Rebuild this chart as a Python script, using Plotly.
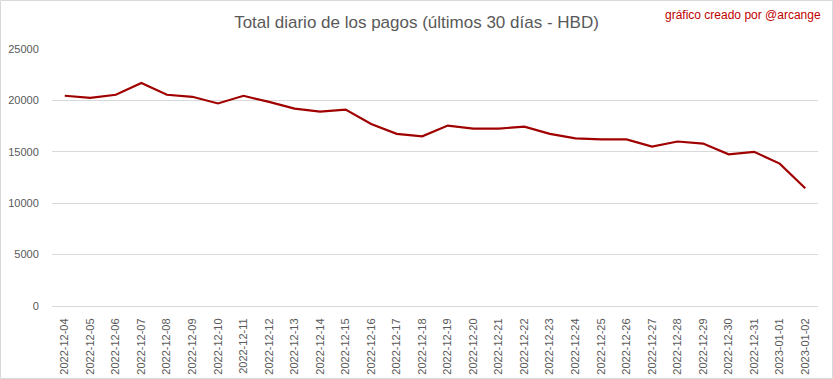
import plotly.graph_objects as go

dates = ["2022-12-04", "2022-12-05", "2022-12-06", "2022-12-07", "2022-12-08", "2022-12-09",
         "2022-12-10", "2022-12-11", "2022-12-12", "2022-12-13", "2022-12-14", "2022-12-15",
         "2022-12-16", "2022-12-17", "2022-12-18", "2022-12-19", "2022-12-20", "2022-12-21",
         "2022-12-22", "2022-12-23", "2022-12-24", "2022-12-25", "2022-12-26", "2022-12-27",
         "2022-12-28", "2022-12-29", "2022-12-30", "2022-12-31", "2023-01-01", "2023-01-02"]
values = [20450, 20250, 20550, 21700, 20550, 20350,
          19700, 20450, 19850, 19200, 18900, 19100,
          17700, 16750, 16500, 17550, 17250, 17250,
          17450, 16750, 16300, 16200, 16200, 15500,
          16000, 15800, 14750, 15000, 13850, 11450]
y_ticks = [0, 5000, 10000, 15000, 20000, 25000]
y_labels = ["0", "5000", "10000", "15000", "20000", "25000"]

W, H = 833, 379
ml, mr, mt, mb = 52, 15, 49, 73
pw, ph = W - ml - mr, H - mt - mb

fig = go.Figure()
fig.add_trace(go.Scatter(x=dates, y=values, mode="lines",
                         line=dict(color="#a00000", width=2.2), hoverinfo="x+y"))

font_main = "Liberation Sans, Arial, sans-serif"

fig.update_layout(
    template="none",
    width=W, height=H,
    margin=dict(l=ml, r=mr, t=mt, b=mb, autoexpand=False),
    paper_bgcolor="white", plot_bgcolor="white",
    showlegend=False,
    title=dict(text="Total diario de los pagos (últimos 30 días - HBD)",
               x=0.5, xref="container", xanchor="center",
               y=1 - 22 / H, yref="container", yanchor="middle",
               font=dict(family=font_main, size=17, color="#595959")),
    xaxis=dict(type="category", range=[-0.5, len(dates) - 0.5], tickangle=-90,
               showgrid=False, showline=False,
               zeroline=False, automargin=False, ticks="outside", ticklen=7, tickcolor="white",
               tickfont=dict(family=font_main, size=11, color="#595959")),
    yaxis=dict(range=[0, 25000], tickvals=y_ticks, ticktext=y_labels, showgrid=True,
               gridcolor="#d9d9d9", gridwidth=1, zeroline=True, zerolinecolor="#d9d9d9",
               zerolinewidth=1, showline=False, automargin=False,
               ticks="outside", ticklen=10, tickcolor="white",
               tickfont=dict(family=font_main, size=11, color="#595959")),
    annotations=[dict(text="gráfico creado por @arcange", xref="paper", yref="paper",
                      x=(W - 10 - ml) / pw, y=(H - 15 - mb) / ph,
                      xanchor="right", yanchor="middle", showarrow=False,
                      font=dict(family=font_main, size=12, color="#c00000"))],
    shapes=[dict(type="rect", xref="paper", yref="paper",
                 x0=(0.5 - ml) / pw, x1=(W - 0.5 - ml) / pw,
                 y0=(0.5 - mb) / ph, y1=(H - 0.5 - mb) / ph,
                 line=dict(color="#d9d9d9", width=1), layer="below")],
)

fig.write_html("out.html", config={"displayModeBar": False},
               post_script="document.body.style.margin='0';document.body.style.padding='0';document.body.style.overflow='hidden';")
